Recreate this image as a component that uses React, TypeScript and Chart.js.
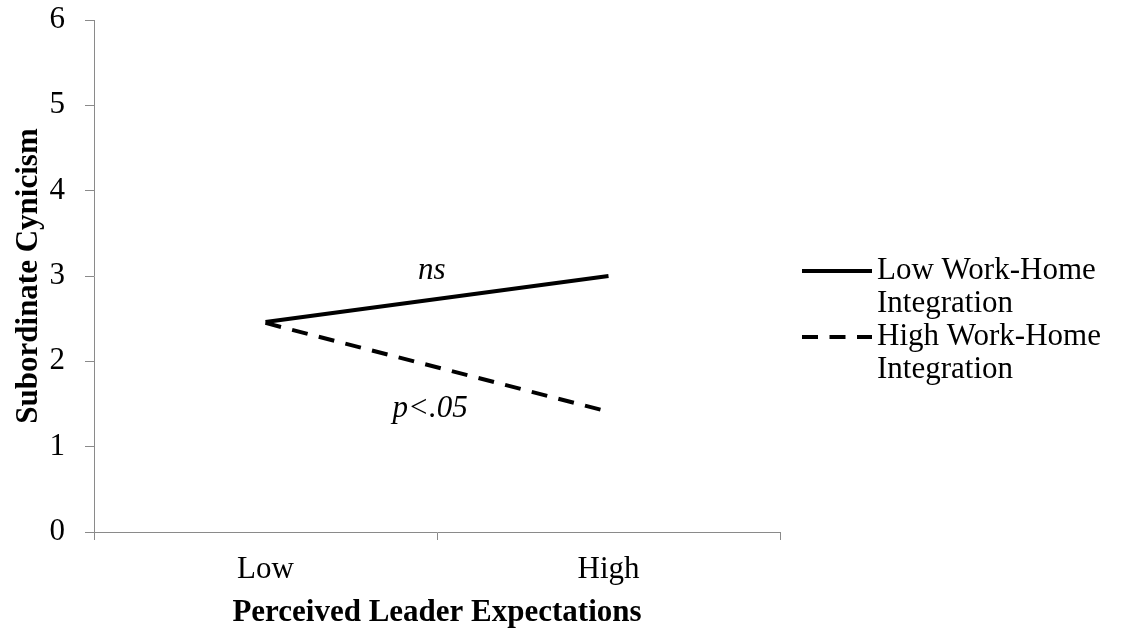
import React, { useEffect, useRef } from "react";
import { Chart, registerables } from "chart.js";

Chart.register(...registerables);

const categories = ["Low", "High"];
const lowIntegration = [2.46, 3.0];
const highIntegration = [2.45, 1.41];
const seriesNames = ["Low Work-Home Integration", "High Work-Home Integration"];
const legendLines = [
  ["Low Work-Home", "Integration"],
  ["High Work-Home", "Integration"],
];
const yMin = 0;
const yMax = 6;
const yStep = 1;
const annotationTexts = ["ns", "p<.05"];
const annotationX = [0.485, 0.48];
const annotationY = [2.96, 1.35];
const xTitle = "Perceived Leader Expectations";
const yTitle = "Subordinate Cynicism";

const FONT = "'Liberation Serif', 'Times New Roman', serif";
const FS = 31;
const AXIS_GREY = "#8a8a8a";

const annotationPlugin = {
  id: "slopeNotes",
  afterDatasetsDraw(chart: any) {
    const ctx = chart.ctx;
    const xs = chart.scales.x;
    const ys = chart.scales.y;
    ctx.save();
    ctx.font = `italic ${FS}px ${FONT}`;
    ctx.fillStyle = "#000";
    ctx.textAlign = "center";
    ctx.textBaseline = "alphabetic";
    annotationTexts.forEach((t, i) => {
      ctx.fillText(t, xs.getPixelForValue(annotationX[i]), ys.getPixelForValue(annotationY[i]));
    });
    ctx.restore();
  },
};

const legendPlugin = {
  id: "wrappedLegend",
  afterDraw(chart: any) {
    const ctx = chart.ctx;
    const area = chart.chartArea;
    const x0 = area.right + 22;
    const x1 = area.right + 92;
    const tx = area.right + 97;
    const entryTops = [area.top + 251, area.top + 317];
    const lineH = 33;
    ctx.save();
    chart.data.datasets.forEach((ds: any, i: number) => {
      const y = entryTops[i];
      ctx.beginPath();
      ctx.strokeStyle = ds.borderColor;
      ctx.lineWidth = ds.borderWidth;
      ctx.lineCap = "butt";
      ctx.setLineDash(ds.borderDash || []);
      ctx.moveTo(x0, y);
      ctx.lineTo(x1, y);
      ctx.stroke();
      ctx.setLineDash([]);
      ctx.fillStyle = "#000";
      ctx.font = `${FS}px ${FONT}`;
      ctx.textAlign = "left";
      ctx.textBaseline = "middle";
      legendLines[i].forEach((line, j) => {
        ctx.fillText(line, tx, y + j * lineH);
      });
    });
    ctx.restore();
  },
};

export default function App() {
  const canvasRef = useRef<HTMLCanvasElement | null>(null);

  useEffect(() => {
    if (!canvasRef.current) return;
    const chart = new Chart(canvasRef.current, {
      type: "line",
      data: {
        labels: categories,
        datasets: [
          {
            label: seriesNames[0],
            data: lowIntegration,
            borderColor: "#000",
            backgroundColor: "#000",
            borderWidth: 4,
            pointRadius: 0,
            tension: 0,
            fill: false,
          },
          {
            label: seriesNames[1],
            data: highIntegration,
            borderColor: "#000",
            backgroundColor: "#000",
            borderWidth: 4,
            borderDash: [16, 11.5],
            pointRadius: 0,
            tension: 0,
            fill: false,
          },
        ],
      },
      options: {
        animation: false,
        responsive: false,
        maintainAspectRatio: false,
        layout: { padding: { top: 20, right: 351, left: 0, bottom: 0 } },
        plugins: {
          legend: { display: false },
          tooltip: { enabled: false },
        },
        scales: {
          x: {
            type: "category",
            offset: true,
            grid: {
              display: true,
              drawOnChartArea: false,
              drawTicks: true,
              tickLength: 8,
              color: AXIS_GREY,
              offset: true,
            },
            border: { display: true, color: AXIS_GREY, width: 1 },
            ticks: {
              color: "#000",
              font: { family: FONT, size: FS, lineHeight: 1.2 },
              padding: 11,
              maxRotation: 0,
            },
            title: {
              display: true,
              text: xTitle,
              color: "#000",
              font: { family: FONT, size: FS, weight: "bold", lineHeight: 1.2 },
              padding: { top: 0, bottom: 2 },
            },
            afterFit(scale: any) {
              scale.height = 102;
              scale.paddingLeft = 0;
              scale.paddingRight = 0;
            },
          },
          y: {
            min: yMin,
            max: yMax,
            grid: {
              display: true,
              drawOnChartArea: false,
              drawTicks: true,
              tickLength: 9,
              color: AXIS_GREY,
            },
            border: { display: true, color: AXIS_GREY, width: 1 },
            ticks: {
              stepSize: yStep,
              color: "#000",
              font: { family: FONT, size: FS, lineHeight: 1.2 },
              padding: 20,
            },
            title: {
              display: true,
              text: yTitle,
              color: "#000",
              font: { family: FONT, size: FS, weight: "bold", lineHeight: 1.2 },
              padding: { top: 10, bottom: 0 },
            },
            afterFit(scale: any) {
              scale.width = 94;
              scale.paddingTop = 0;
              scale.paddingBottom = 0;
            },
          },
        },
      },
      plugins: [annotationPlugin, legendPlugin],
    });
    return () => chart.destroy();
  }, []);

  return (
    <div style={{ position: "fixed", left: 0, top: 0, width: 1131, height: 634, background: "#fff" }}>
      <canvas ref={canvasRef} width={1131} height={634} />
    </div>
  );
}
